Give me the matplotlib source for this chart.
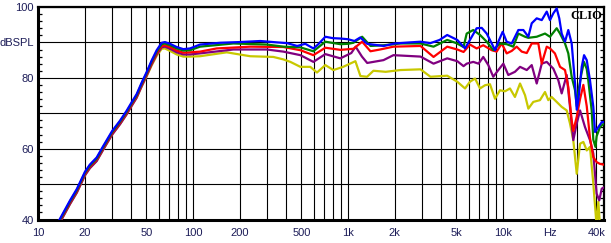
import matplotlib
matplotlib.use('Agg')
import matplotlib.pyplot as plt
from matplotlib.ticker import MultipleLocator, NullLocator

# common low-frequency points (Hz), the five curves overlap up there
f_low = [13.0, 13.7, 14.6, 16.1, 17.8, 20.1, 21.6, 23.9, 26.4, 30.1, 33.8, 37.3,
         40.2, 43.3, 46.7, 50.2, 54.1, 58.3, 62.8, 65.9, 71.1, 78.5, 86.6, 95.7]

blue_low = [38.0, 39.8, 42.0, 45.4, 48.6, 53.5, 55.5, 57.5, 60.8, 65.0, 67.9, 70.7,
            73.1, 75.4, 78.7, 81.6, 84.9, 87.8, 89.9, 90.1, 89.6, 88.7, 88.1, 88.3]
green_low = [37.7, 39.5, 41.7, 45.1, 48.3, 53.2, 55.2, 57.2, 60.5, 64.7, 67.6, 70.4,
             72.8, 75.1, 78.4, 81.3, 84.6, 87.4, 89.5, 89.7, 89.2, 88.3, 87.7, 87.8]
red_low = [37.4, 39.2, 41.4, 44.8, 48.0, 52.9, 54.9, 56.9, 60.2, 64.4, 67.3, 70.1,
           72.5, 74.8, 78.1, 81.0, 84.2, 87.0, 89.0, 89.2, 88.7, 87.7, 87.1, 87.2]
purple_low = [37.0, 38.8, 41.0, 44.4, 47.6, 52.5, 54.5, 56.5, 59.8, 64.0, 66.9, 69.7,
              72.1, 74.4, 77.7, 80.6, 83.8, 86.6, 88.6, 88.8, 88.2, 87.2, 86.6, 86.6]
yellow_low = [37.0, 38.8, 41.0, 44.4, 47.6, 52.5, 54.5, 56.5, 59.8, 64.0, 66.9, 69.7,
              72.1, 74.4, 77.6, 80.4, 83.5, 86.2, 88.2, 88.3, 87.6, 86.6, 86.0, 86.0]

# upper part, read per curve
blue_f = [111, 150, 200, 272, 350, 404, 470, 530, 598, 640, 714, 800, 893, 1000, 1100,
          1200, 1330, 1500, 1700, 2000, 2500, 2937, 3400, 3900, 4365, 5070, 5690, 6120,
          6760, 7290, 7850, 8460, 8880, 9330, 9950, 10560, 11380, 12560, 13530, 14570,
          15320, 16500, 17780, 19150, 20100, 21110, 22200, 23070, 23910, 25120, 26380,
          27740, 29150, 29900, 30620, 32200, 33340, 34690, 36410, 38260, 39240, 41220,
          43350, 44500]
blue_db = [89.4, 89.9, 90.1, 90.4, 90.0, 89.8, 89.0, 89.6, 88.3, 89.4, 91.6, 91.2, 91.1,
           90.9, 90.4, 91.4, 89.6, 89.3, 89.0, 89.7, 90.0, 90.2, 89.8, 90.7, 92.1, 90.7,
           88.3, 90.7, 94.0, 94.1, 92.5, 89.7, 87.8, 90.2, 93.0, 90.2, 89.7, 93.5, 93.5,
           91.6, 95.4, 96.8, 96.3, 98.7, 96.3, 98.2, 99.6, 96.8, 92.5, 90.2, 93.5, 89.7,
           78.4, 71.0, 73.7, 83.1, 86.4, 85.0, 79.3, 71.8, 64.7, 66.1, 67.5, 67.5]

green_f = [111, 182, 300, 383, 493, 598, 714, 893, 1000, 1084, 1234, 1396, 1700, 2181,
           2937, 3563, 4365, 5000, 5565, 5830, 6430, 7110, 7850, 8650, 9560, 10560, 11650,
           12560, 13870, 14570, 16500, 18660, 20100, 22200, 23330, 25120, 26380, 27740,
           29150, 29900, 30600, 32000, 33300, 34700, 35500, 37330, 38260, 39500, 40190,
           42240, 44500]
green_db = [88.8, 89.7, 89.4, 88.8, 88.6, 87.5, 90.2, 89.5, 89.6, 89.9, 91.6, 89.0, 89.2,
            89.7, 89.7, 88.8, 90.7, 89.8, 88.7, 92.5, 93.5, 92.1, 90.2, 87.8, 89.7, 89.5,
            88.8, 92.5, 91.6, 91.3, 91.6, 92.5, 91.6, 94.0, 92.5, 89.7, 86.9, 80.3, 76.5,
            72.0, 76.0, 81.0, 84.5, 82.5, 79.3, 70.8, 62.5, 60.5, 63.5, 66.1, 67.0]

red_f = [111, 142, 234, 383, 493, 598, 714, 893, 1084, 1234, 1396, 1610, 1964, 2937,
         3563, 4365, 5070, 5565, 6120, 6760, 7460, 8460, 9100, 9810, 10560, 11380, 12250,
         13210, 14230, 15320, 16900, 17780, 19150, 20100, 21620, 23330, 25120, 26380,
         27740, 28410, 29900, 31410, 32990, 34690, 36410, 38260, 40190, 42240, 44500]
red_db = [87.4, 88.3, 88.8, 88.7, 87.8, 86.4, 88.5, 87.9, 88.2, 90.2, 87.5, 88.0, 88.8,
          89.0, 85.9, 88.8, 88.0, 87.3, 89.4, 88.3, 89.2, 87.8, 87.4, 89.7, 86.9, 87.6,
          88.8, 87.4, 87.0, 89.7, 89.7, 84.0, 88.8, 88.3, 86.9, 83.1, 82.2, 77.4, 68.0,
          65.0, 69.0, 74.0, 78.0, 72.0, 63.0, 57.6, 56.2, 55.7, 55.5]

purple_f = [111, 182, 300, 383, 493, 598, 714, 893, 1050, 1120, 1230, 1330, 1694, 1964,
            2937, 3563, 4365, 5070, 5565, 5830, 6430, 6950, 7460, 8040, 8650, 9330, 10050,
            10820, 11940, 12880, 14230, 15320, 16500, 17780, 19150, 21110, 22750, 23910,
            25760, 27050, 28410, 29900, 31410, 33810, 36410, 38260, 40190, 41780, 43350,
            44500]
purple_db = [86.9, 88.0, 88.0, 87.4, 86.4, 84.5, 86.7, 85.5, 87.0, 88.8, 86.0, 84.2, 85.0,
             86.4, 86.0, 84.0, 85.5, 84.7, 83.3, 84.0, 84.5, 84.0, 85.9, 83.6, 80.3, 82.2,
             84.0, 80.8, 81.7, 83.1, 82.2, 83.6, 78.4, 84.0, 84.5, 82.6, 79.3, 75.6, 80.8,
             71.8, 62.4, 67.1, 70.8, 66.1, 62.4, 58.6, 47.3, 45.4, 48.7, 49.0]

yellow_f = [111, 165, 234, 330, 383, 425, 493, 571, 631, 714, 805, 930, 1116, 1203, 1328,
            1459, 1750, 2181, 2937, 3404, 4365, 5070, 5690, 6120, 6600, 7110, 7650, 8240,
            8880, 9560, 10300, 11090, 11940, 12880, 13870, 14570, 15680, 17320, 18660,
            19600, 20590, 22200, 23910, 25760, 27050, 28410, 29900, 31410, 32990, 34690,
            36410, 38260, 40190, 41220, 42240]
yellow_db = [86.1, 87.2, 86.1, 85.9, 85.2, 84.5, 83.1, 83.1, 81.5, 83.6, 82.2, 83.1, 84.7,
             80.5, 80.3, 82.0, 81.7, 82.2, 82.4, 80.3, 80.6, 78.9, 77.0, 78.9, 79.8, 77.0,
             77.9, 78.2, 74.1, 76.5, 76.2, 77.0, 74.6, 78.4, 75.1, 71.3, 73.2, 73.7, 76.0,
             73.7, 74.6, 73.2, 71.8, 70.8, 67.1, 62.4, 52.9, 61.4, 61.9, 59.5, 60.5, 50.1,
             38.0, 45.0, 38.0]

# axis text
x_grid = [m * 10 ** d for d in range(1, 5) for m in range(1, 10) if m * 10 ** d <= 40000]
x_labels = {10: '10', 20: '20', 50: '50', 100: '100', 200: '200', 500: '500',
            1000: '1k', 2000: '2k', 5000: '5k', 10000: '10k', 20000: 'Hz', 40000: '40k'}
y_grid = [40, 50, 60, 70, 80, 90, 100]
y_labels = {40: '40', 60: '60', 80: '80', 90: 'dBSPL', 100: '100'}

TEXT_COLOR = '#1c1c58'
plt.rcParams['font.family'] = ['Liberation Sans', 'DejaVu Sans']

fig = plt.figure(figsize=(6.11, 2.43), dpi=100)
ax = fig.add_axes([38 / 611, 23.5 / 243, 565.5 / 611, 212.5 / 243])

series = [
    (yellow_low, yellow_f, yellow_db, '#c8c800'),
    (purple_low, purple_f, purple_db, '#800080'),
    (red_low, red_f, red_db, '#ff0000'),
    (green_low, green_f, green_db, '#008000'),
    (blue_low, blue_f, blue_db, '#0000ff'),
]
for low, fx, db, col in series:
    ax.plot(f_low + fx, low + db, color=col, lw=1.6, zorder=3)

ax.set_xscale('log')
ax.set_xlim(10, 44500)
ax.set_ylim(40, 100)

ax.set_xticks(x_grid)
ax.set_xticklabels([x_labels.get(f, '') for f in x_grid])
ax.xaxis.set_minor_locator(NullLocator())
ax.set_yticks(y_grid)
ax.set_yticklabels([y_labels.get(v, '') for v in y_grid])
ax.yaxis.set_minor_locator(MultipleLocator(2))

ax.grid(True, which='major', color='black', lw=0.8)
ax.tick_params(axis='x', which='major', length=0, pad=6, labelsize=8, labelcolor=TEXT_COLOR)
ax.tick_params(axis='y', which='major', length=0, pad=3, labelsize=8, labelcolor=TEXT_COLOR)
ax.tick_params(axis='y', which='minor', direction='in', length=3, width=0.9,
               left=True, right=True)

for side in ['left', 'bottom']:
    ax.spines[side].set_linewidth(2.2)
for side in ['top', 'right']:
    ax.spines[side].set_linewidth(1.6)

ax.text(0.997, 0.987, 'CLIO', transform=ax.transAxes, ha='right', va='top',
        family='Liberation Serif', fontweight='bold', fontsize=9, color='black', zorder=5)

fig.savefig('out.png', dpi=100)
